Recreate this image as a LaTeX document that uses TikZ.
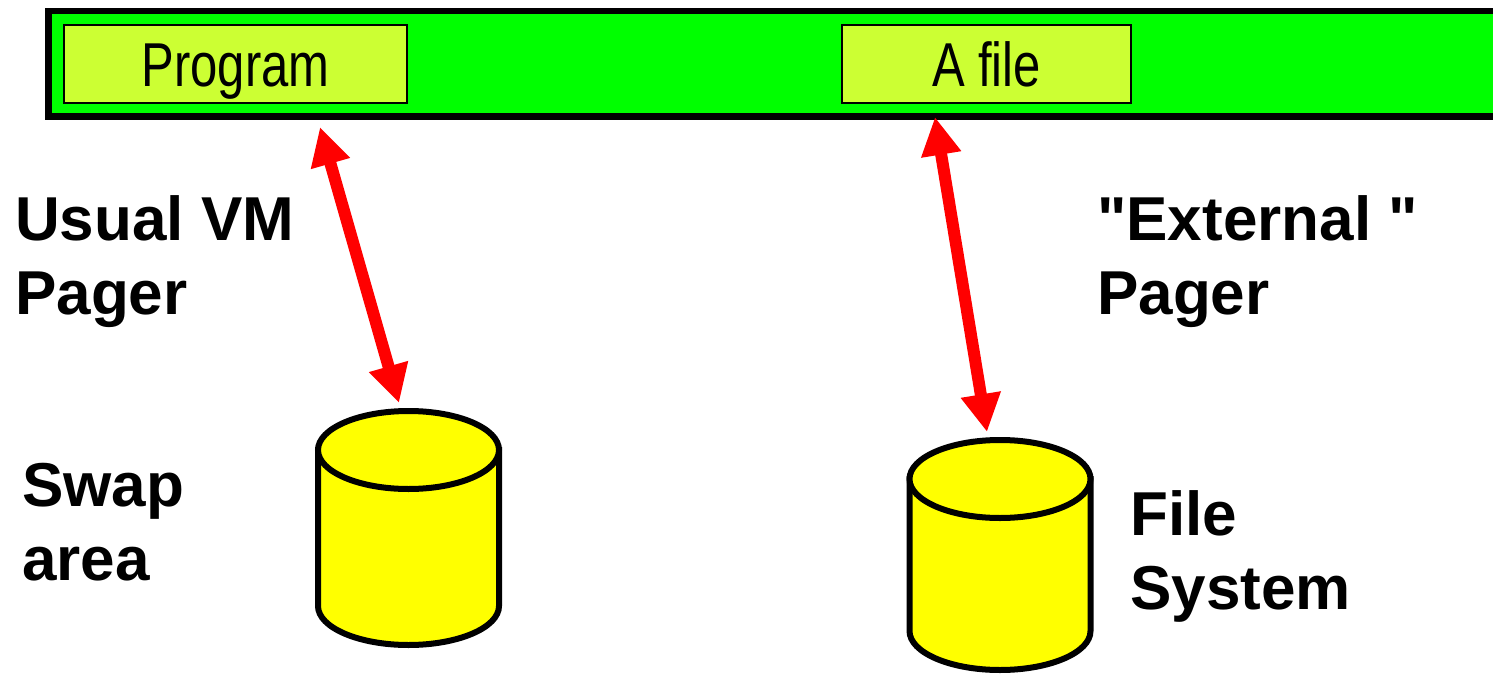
\documentclass[tikz,border=0pt]{standalone}
\usepackage{fontspec}
\setmainfont{Liberation Sans}[Ligatures=TeXOff]
\usetikzlibrary{arrows.meta,calc}
\definecolor{barGreen}{HTML}{00FF00}
\definecolor{boxLime}{HTML}{CCFF33}
\definecolor{diskYellow}{HTML}{FFFF00}

% a disk drum drawn around an (invisible) node of the same size
\newcommand\drawdisk[1]{%
  \draw[disk] ($(#1.north west)+(0,39)$) -- ($(#1.south west)+(0,-39)$)
    arc[start angle=180, end angle=0, x radius=90.5, y radius=39]
    -- ($(#1.north east)+(0,39)$) -- cycle;
  \draw[disk] ($(#1.north)+(0,39)$) ellipse[x radius=90.5, y radius=39];
}

\begin{document}
\begin{tikzpicture}[x=1pt,y=-1pt,
  bar/.style={draw=black, line width=6.5pt, fill=barGreen, inner sep=0pt,
    outer sep=0pt, anchor=north west},
  region/.style={draw=black, line width=1.8pt, fill=boxLime, inner sep=0pt,
    minimum height=78.2pt, text height=45pt, text depth=0pt,
    font=\fontsize{62}{74}\selectfont},
  sidetext/.style={font=\fontsize{62}{74}\selectfont\bfseries, align=left,
    anchor=north west, inner sep=0pt},
  drum/.style={minimum width=181pt, inner sep=0pt, outer sep=0pt},
  pager/.style={draw=red, line width=12pt,
    {Triangle[length=38pt,width=38pt]}-{Triangle[length=38pt,width=38pt]}},
  disk/.style={draw=black, line width=6pt, fill=diskYellow},
]
\clip (0,0) rectangle (1493,674);

% address space bar with the two mapped regions
\node[bar, minimum width=1480pt, minimum height=105.5pt] (mem) at (48.25,11.25) {};
\node[region, minimum width=343.2pt] (prog) at (235.5,64) {\scalebox{0.79}[1]{Program}};
\node[region, minimum width=289.2pt] (afile) at (986.5,64) {\scalebox{0.79}[1]{A file}};

% backing stores
\node[drum, minimum height=234pt] (swap) at (408.5,528) {};
\node[drum, minimum height=230pt] (fs) at (1000,555) {};
\drawdisk{swap}
\drawdisk{fs}

% pagers
\draw[pager] ($(prog.south)+(84.5,23)$) -- ($(swap.north)+(-9.5,-8)$);
\draw[pager] ($(afile.south)+(-51.5,13)$) -- ($(fs.north)+(-13,-8)$);

% labels
\node[sidetext] (usual) at (15,195) {Usual VM\\Pager};
\node[sidetext] (swaplbl) at (22,463) {Swap\\area};
\node[sidetext] (ext) at (1097,195) {"External "\\Pager};
\node[sidetext] (fslbl) at (1130,490) {File\\System};
\end{tikzpicture}
\end{document}
